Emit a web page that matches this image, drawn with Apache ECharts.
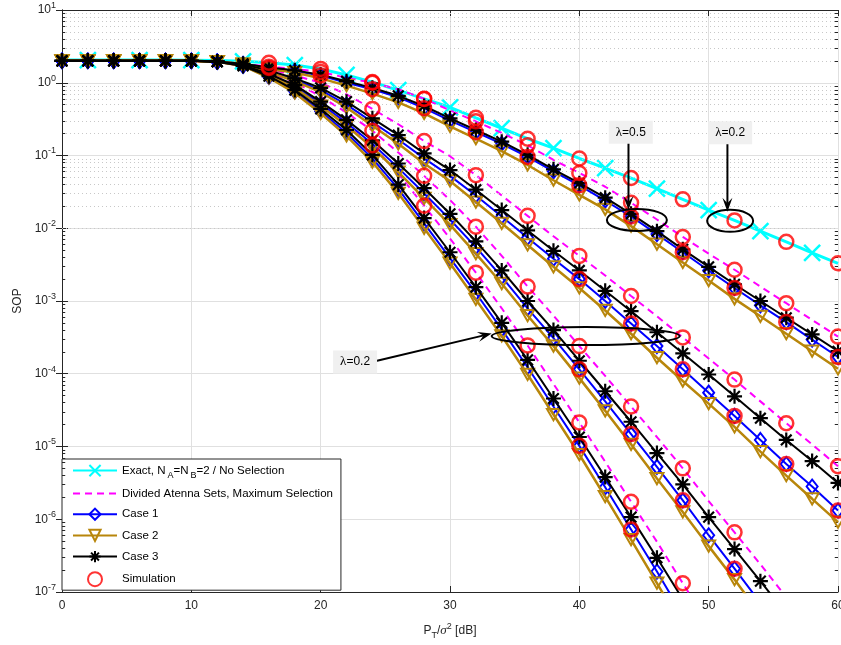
<!DOCTYPE html>
<html>
<head>
<meta charset="utf-8">
<script src="https://cdn.jsdelivr.net/npm/echarts@6/dist/echarts.min.js"></script>
<style>
  html, body { margin: 0; padding: 0; background: #ffffff; overflow: hidden; }
  #chart { width: 841px; height: 645px; }
</style>
</head>
<body>
<div id="chart"></div>
<script>
// Transmit SNR grid (dB)
const snrDb = [0,2,4,6,8,10,12,14,16,18,20,22,24,26,28,30,32,34,36,38,40,42,44,46,48,50,52,54,56,58,60];
// SNR points where Monte-Carlo results were taken
const simDbFull  = [16,20,24,28,32,36,40,44,48,52,56,60];
const simDbDiv   = [24,28,32,36,40,44,48,52,56,60];
const simDbCase1 = [40,44,48,52,56,60];

// Exact SOP, N_A = N_B = 2, no antenna selection
const exactNoSel = [2.05,2.05,2.05,2.05,2.05,2.04,2.02,1.97,1.88,1.75,1.55,1.28,1.02,0.79,0.6,0.46,0.33,0.237,0.17,0.126,0.091,0.067,0.049,0.035,0.025,0.0178,0.0128,0.0091,0.0065,0.0046,0.0033];

// Family A (lambda = 0.5)
const divA   = [2.0,2.0,2.0,2.0,2.0,2.0,1.95,1.82,1.66,1.55,1.41,1.17,1.0,0.813,0.603,0.417,0.295,0.204,0.138,0.0871,0.0575,0.0372,0.0224,0.0132,0.00759,0.00447,0.00269,0.00158,9.33e-4,5.5e-4,3.24e-4];
const case1A = [2.0,2.0,2.0,2.0,2.0,2.0,1.95,1.82,1.60,1.45,1.26,1.0,0.813,0.631,0.447,0.302,0.209,0.145,0.0955,0.0603,0.0389,0.024,0.0145,0.00832,0.00468,0.00263,0.00151,8.71e-4,5.13e-4,2.95e-4,1.70e-4];
const case2A = [2.0,2.0,2.0,2.0,2.0,2.0,1.95,1.82,1.55,1.38,1.15,0.912,0.708,0.537,0.380,0.251,0.170,0.115,0.0741,0.0457,0.0288,0.0182,0.0107,0.00603,0.00339,0.00191,0.00107,6.17e-4,3.55e-4,2.04e-4,1.17e-4];
const case3A = [2.0,2.0,2.0,2.0,2.0,2.0,1.95,1.82,1.62,1.48,1.29,1.05,0.851,0.661,0.479,0.324,0.224,0.155,0.102,0.0646,0.0417,0.0263,0.0158,0.00912,0.00513,0.00295,0.0017,0.001,5.89e-4,3.47e-4,2.04e-4];

// Family B
const divB   = [2.0,2.0,2.0,2.0,2.0,2.0,1.95,1.78,1.55,1.26,1.0,0.692,0.437,0.269,0.158,0.0977,0.0537,0.0282,0.0148,0.00776,0.00417,0.00224,0.00117,6.17e-4,3.16e-4,1.62e-4,8.32e-5,4.17e-5,2.09e-5,1.07e-5,5.37e-6];
const case1B = [2.0,2.0,2.0,2.0,2.0,2.0,1.95,1.78,1.45,1.10,0.794,0.501,0.288,0.166,0.0912,0.0525,0.0282,0.0145,0.00741,0.0038,0.002,0.001,4.9e-4,2.4e-4,1.15e-4,5.5e-5,2.63e-5,1.23e-5,5.75e-6,2.82e-6,1.32e-6];
const case2B = [2.0,2.0,2.0,2.0,2.0,2.0,1.95,1.78,1.41,1.05,0.741,0.457,0.257,0.145,0.0776,0.0447,0.0229,0.0117,0.00589,0.00295,0.00151,7.41e-4,3.55e-4,1.66e-4,7.94e-5,3.89e-5,1.86e-5,8.51e-6,3.98e-6,1.91e-6,9.12e-7];
const case3B = [2.0,2.0,2.0,2.0,2.0,2.0,1.95,1.78,1.48,1.15,0.851,0.550,0.324,0.191,0.107,0.0631,0.0339,0.0178,0.00933,0.0049,0.00263,0.00138,7.24e-4,3.72e-4,1.91e-4,9.77e-5,4.9e-5,2.45e-5,1.23e-5,6.31e-6,3.16e-6];

// Family C
const divC   = [2.0,2.0,2.0,2.0,2.0,2.0,1.95,1.74,1.38,1.02,0.646,0.389,0.219,0.110,0.0525,0.0245,0.0105,0.00417,0.00158,6.31e-4,2.4e-4,9.33e-5,3.55e-5,1.35e-5,5.01e-6,1.78e-6,6.61e-7,2.4e-7,8.51e-8];
const case1C = [2.0,2.0,2.0,2.0,2.0,2.0,1.95,1.74,1.29,0.891,0.513,0.282,0.145,0.0676,0.0302,0.0132,0.0055,0.00214,7.94e-4,3.09e-4,1.15e-4,4.17e-5,1.48e-5,5.25e-6,1.82e-6,6.03e-7,2.09e-7,7.08e-8];
const case2C = [2.0,2.0,2.0,2.0,2.0,2.0,1.95,1.74,1.26,0.851,0.479,0.257,0.129,0.0589,0.0257,0.0112,0.00447,0.00174,6.31e-4,2.4e-4,8.71e-5,3.09e-5,1.07e-5,3.63e-6,1.26e-6,4.27e-7,1.48e-7,4.9e-8];
const case3C = [2.0,2.0,2.0,2.0,2.0,2.0,1.95,1.74,1.32,0.933,0.550,0.309,0.162,0.0776,0.0355,0.0158,0.00661,0.00263,0.001,3.98e-4,1.51e-4,5.75e-5,2.19e-5,8.13e-6,3.02e-6,1.07e-6,3.89e-7,1.41e-7,5.01e-8];

// Family D
const divD   = [2.0,2.0,2.0,2.0,2.0,2.0,1.95,1.70,1.29,0.871,0.513,0.282,0.138,0.0562,0.0204,0.00724,0.00245,7.94e-4,2.45e-4,7.24e-5,2.14e-5,6.17e-6,1.74e-6,4.9e-7,1.32e-7,3.55e-8];
const case1D = [2.0,2.0,2.0,2.0,2.0,2.0,1.95,1.70,1.20,0.759,0.407,0.204,0.0912,0.0347,0.0117,0.00389,0.00129,4.07e-4,1.23e-4,3.55e-5,1.02e-5,2.75e-6,7.24e-7,1.91e-7,4.79e-8];
const case2D = [2.0,2.0,2.0,2.0,2.0,2.0,1.95,1.70,1.17,0.724,0.380,0.186,0.0813,0.0302,0.01,0.00331,0.00105,3.31e-4,9.77e-5,2.75e-5,7.76e-6,2.04e-6,5.25e-7,1.32e-7,3.31e-8];
const case3D = [2.0,2.0,2.0,2.0,2.0,2.0,1.95,1.70,1.23,0.794,0.437,0.224,0.102,0.0398,0.0138,0.00468,0.00155,5.01e-4,1.55e-4,4.57e-5,1.35e-5,3.8e-6,1.07e-6,2.95e-7,7.94e-8];

// Legend names
const NAME_EXACT = 'Exact';
const NAME_DIV = 'Divided Atenna Sets, Maximum Selection';
const NAME_C1 = 'Case 1';
const NAME_C2 = 'Case 2';
const NAME_C3 = 'Case 3';
const NAME_SIM = 'Simulation';

// Annotations: label anchor, arrow (from, to) and ellipse centre in data units
const notes = [
  { text: '0.5', label: [43.98, 0.208], from: [43.8, 0.153], to: [43.8, 0.0178], ring: [44.45, 0.013], rx: 30, ry: 11 },
  { text: '0.2', label: [51.66, 0.206], from: [51.45, 0.15], to: [51.45, 0.0169], ring: [51.66, 0.01265], rx: 23, ry: 11 },
  { text: '0.2', label: [22.66, 1.45e-4], from: [24.28, 1.5e-4], to: [33.22, 3.57e-4], ring: [40.49, 3.3e-4], rx: 94, ry: 9 }
];

const FONT = "'Liberation Sans', Arial, Helvetica, sans-serif";
const AX = '#262626';
const COL = { cyan: '#00ffff', magenta: '#ff00ff', blue: '#0000ff', gold: '#b8860b', black: '#000000', red: '#ff0000' };
const SYM_X = 'path://M0,0L10,10M10,0L0,10';
const SYM_STAR = 'path://M5,0L5,10M0,5L10,5M1.46,1.46L8.54,8.54M8.54,1.46L1.46,8.54';
const SYM_TRI = 'path://M0,0L10,0L5,8.66Z';
const HOLLOW = 'rgba(255,255,255,0)';

const pairs = vals => vals.map((v, i) => [snrDb[i], v]);

function curve(name, vals, color, opts) {
  return Object.assign({
    type: 'line', name: name, data: pairs(vals),
    showAllSymbol: true, symbolKeepAspect: true, clip: true,
    lineStyle: { color: color, width: 2 },
    itemStyle: { color: HOLLOW, borderColor: color, borderWidth: 2 },
    emphasis: { disabled: true }, animation: false
  }, opts);
}

const series = [];

series.push(curve(NAME_EXACT, exactNoSel, COL.cyan, {
  z: 3, symbol: SYM_X,
  symbolSize: (v, p) => (p.dataIndex % 2 === 1 ? 16 : 0),
  lineStyle: { color: COL.cyan, width: 3 },
  itemStyle: { color: HOLLOW, borderColor: COL.cyan, borderWidth: 2.5 }
}));

[divA, divB, divC, divD].forEach(d => series.push(curve(NAME_DIV, d, COL.magenta, {
  z: 4, symbol: 'none', lineStyle: { color: COL.magenta, width: 2, type: [7, 5] }
})));
[case1A, case1B, case1C, case1D].forEach(d => series.push(curve(NAME_C1, d, COL.blue, {
  z: 5, symbol: 'diamond', symbolSize: [11, 14]
})));
[case2A, case2B, case2C, case2D].forEach(d => series.push(curve(NAME_C2, d, COL.gold, {
  z: 6, symbol: SYM_TRI, symbolSize: 13, lineStyle: { color: COL.gold, width: 2.5 }
})));
[case3A, case3B, case3C, case3D].forEach(d => series.push(curve(NAME_C3, d, COL.black, {
  z: 7, symbol: SYM_STAR, symbolSize: 15,
  itemStyle: { color: HOLLOW, borderColor: COL.black, borderWidth: 2.2 }
})));

// Monte-Carlo points sit on the exact curve and on the divided / Case 1 curves
const simSets = [
  [exactNoSel, simDbFull], [divA, simDbFull], [case1A, simDbFull],
  [divB, simDbDiv], [divC, simDbDiv], [divD, simDbDiv],
  [case1B, simDbCase1], [case1C, simDbCase1], [case1D, simDbCase1]
];
const simPoints = [];
simSets.forEach(([c, dbs]) => dbs.forEach(d => {
  const i = snrDb.indexOf(d);
  if (i < c.length && c[i] >= 1e-7) simPoints.push([d, c[i]]);
}));
series.push({
  type: 'scatter', name: NAME_SIM, data: simPoints, z: 8,
  symbol: 'circle', symbolSize: 14,
  itemStyle: { color: HOLLOW, borderColor: COL.red, borderWidth: 2.5 },
  emphasis: { disabled: true }, animation: false
});

// Minor log grid (2..9 per decade) and minor ticks on both sides
const minorVals = [];
for (let e = -7; e <= 0; e++) for (let m = 2; m <= 9; m++) minorVals.push(m * Math.pow(10, e));
const minorLines = minorVals.map(v => ({ yAxis: v }));
const minorTicks = [];
minorVals.forEach(v => {
  minorTicks.push([{ coord: [0, v] }, { coord: [0.25, v] }]);
  minorTicks.push([{ coord: [59.75, v] }, { coord: [60, v] }]);
});
series.push({
  type: 'line', name: '_grid', data: [], z: 1, silent: true, animation: false,
  markLine: {
    silent: true, symbol: ['none', 'none'], label: { show: false }, animation: false,
    lineStyle: { color: '#c8c8c8', width: 1, type: [1, 3] },
    data: minorLines
  }
});
series.push({
  type: 'line', name: '_ticks', data: [], z: 9, silent: true, animation: false,
  markLine: {
    silent: true, symbol: ['none', 'none'], label: { show: false }, animation: false,
    lineStyle: { color: AX, width: 1, type: 'solid' },
    data: minorTicks
  }
});

const chart = echarts.init(document.getElementById('chart'), null, { renderer: 'canvas' });

chart.setOption({
  backgroundColor: '#ffffff',
  animation: false,
  textStyle: { fontFamily: FONT },
  grid: { left: 62, top: 10, width: 776, height: 582, containLabel: false, outerBoundsMode: 'none' },
  legend: {
    data: [
      NAME_EXACT,
      { name: NAME_DIV, itemStyle: { color: 'rgba(0,0,0,0)', borderColor: 'rgba(0,0,0,0)', borderWidth: 0 } },
      NAME_C1, NAME_C2, NAME_C3, NAME_SIM
    ],
    orient: 'vertical', left: 62, top: 459,
    backgroundColor: '#ffffff', borderColor: AX, borderWidth: 1,
    padding: [5, 8, 3, 10], itemGap: 8, itemWidth: 44, itemHeight: 14,
    selectedMode: false,
    formatter: n => (n === NAME_EXACT ? 'Exact, N{sub|A}=N{sub|B}=2 / No Selection' : n),
    textStyle: {
      fontFamily: FONT, fontSize: 11.5, color: '#000',
      rich: { sub: { fontFamily: FONT, fontSize: 9, color: '#000', padding: [9, 0, 0, 2] } }
    }
  },
  xAxis: [{
    type: 'value', min: 0, max: 60, interval: 10, position: 'bottom',
    name: 'P{sub|T}/{i|σ}{sup|2} [dB]', nameLocation: 'middle', nameGap: 30,
    nameTextStyle: {
      fontFamily: FONT, fontSize: 12, color: AX,
      rich: {
        sub: { fontFamily: FONT, fontSize: 9, color: AX, padding: [9, 0, 0, 0] },
        sup: { fontFamily: FONT, fontSize: 9, color: AX, padding: [0, 0, 9, 0] },
        i: { fontFamily: "'Liberation Serif', 'DejaVu Serif', serif", fontStyle: 'italic', fontSize: 13, color: AX }
      }
    },
    axisLine: { show: true, lineStyle: { color: AX, width: 1 } },
    axisTick: { show: true, inside: true, length: 6, lineStyle: { color: AX } },
    axisLabel: { color: AX, fontSize: 12, fontFamily: FONT, margin: 8 },
    splitLine: { show: true, lineStyle: { color: '#e0e0e0', width: 1 } }
  }, {
    type: 'value', min: 0, max: 60, interval: 10, position: 'top',
    axisLine: { show: true, lineStyle: { color: AX, width: 1 } },
    axisTick: { show: true, inside: true, length: 6, lineStyle: { color: AX } },
    axisLabel: { show: false }, splitLine: { show: false }
  }],
  yAxis: [{
    type: 'log', logBase: 10, min: 1e-7, max: 10, splitNumber: 8, position: 'left',
    name: 'SOP', nameLocation: 'middle', nameGap: 27,
    nameTextStyle: { fontFamily: FONT, fontSize: 12, color: AX },
    axisLine: { show: true, lineStyle: { color: AX, width: 1 } },
    axisTick: { show: true, inside: true, length: 6, lineStyle: { color: AX } },
    axisLabel: {
      color: AX, fontSize: 12, fontFamily: FONT, margin: 6,
      formatter: v => '10{sup|' + Math.round(Math.log10(v)) + '}',
      rich: { sup: { fontFamily: FONT, fontSize: 9, color: AX, padding: [0, 0, 9, 0] } }
    },
    splitLine: { show: true, lineStyle: { color: '#e0e0e0', width: 1 } }
  }, {
    type: 'log', logBase: 10, min: 1e-7, max: 10, splitNumber: 8, position: 'right',
    axisLine: { show: true, lineStyle: { color: AX, width: 1 } },
    axisTick: { show: true, inside: true, length: 6, lineStyle: { color: AX } },
    axisLabel: { show: false }, splitLine: { show: false }
  }],
  series: series
});

// Lambda call-outs: grey label box, arrow and ellipse
function arrowHead(p0, p1, len, wid) {
  const dx = p1[0] - p0[0], dy = p1[1] - p0[1];
  const L = Math.hypot(dx, dy) || 1;
  const ux = dx / L, uy = dy / L, nx = -uy, ny = ux;
  const bx = p1[0] - ux * len, by = p1[1] - uy * len;
  return [
    [p1[0], p1[1]],
    [bx + nx * wid / 2, by + ny * wid / 2],
    [p1[0] - ux * len * 0.6, p1[1] - uy * len * 0.6],
    [bx - nx * wid / 2, by - ny * wid / 2]
  ];
}
const graphics = [];
notes.forEach(n => {
  const lp = chart.convertToPixel({ gridIndex: 0 }, n.label);
  const a0 = chart.convertToPixel({ gridIndex: 0 }, n.from);
  const a1 = chart.convertToPixel({ gridIndex: 0 }, n.to);
  const rc = chart.convertToPixel({ gridIndex: 0 }, n.ring);
  const L = Math.hypot(a1[0] - a0[0], a1[1] - a0[1]);
  const back = [a1[0] - (a1[0] - a0[0]) / L * 8, a1[1] - (a1[1] - a0[1]) / L * 8];
  graphics.push({
    type: 'ellipse', z: 100, silent: true,
    shape: { cx: rc[0], cy: rc[1], rx: n.rx, ry: n.ry },
    style: { fill: null, stroke: '#000', lineWidth: 2 }
  });
  graphics.push({
    type: 'line', z: 100, silent: true,
    shape: { x1: a0[0], y1: a0[1], x2: back[0], y2: back[1] },
    style: { stroke: '#000', lineWidth: 2 }
  });
  graphics.push({
    type: 'polygon', z: 100, silent: true,
    shape: { points: arrowHead(a0, a1, 14, 10) },
    style: { fill: '#000' }
  });
  graphics.push({
    type: 'text', z: 101, silent: true, x: lp[0], y: lp[1],
    style: {
      text: '{g|λ}=' + n.text, align: 'center', verticalAlign: 'middle',
      font: "12px 'Liberation Sans', Arial, sans-serif", fill: '#000',
      backgroundColor: '#f0f0f0', padding: [5, 7, 5, 7],
      rich: { g: { fontFamily: "'Liberation Serif', 'DejaVu Serif', serif", fontSize: 13, fill: '#000' } }
    }
  });
});
chart.setOption({ graphic: graphics });
</script>
</body>
</html>
